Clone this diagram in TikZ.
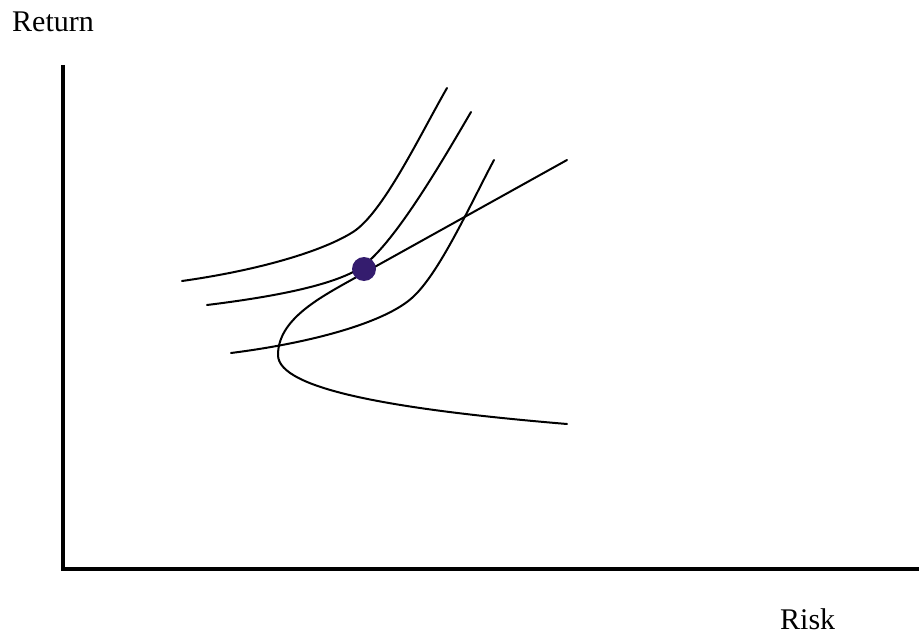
\documentclass[tikz,border=0pt]{standalone}
\usepackage{fontspec}
\setmainfont{Liberation Serif}
\begin{document}
\begin{tikzpicture}[x=1pt,y=-1pt,
  curve/.style={line width=2pt, line cap=round, line join=round},
  axis/.style={line width=4pt, line join=miter},
  lab/.style={font=\fontsize{30}{36}\selectfont, inner sep=0pt, anchor=base west}]
\useasboundingbox (0,0) rectangle (919,634);
% axes
\coordinate (ytop) at (63,65);
\coordinate (origin) at (63,569);
\coordinate (xend) at (921,569);
\draw[axis] (ytop) -- (origin) -- (xend);
% labels
\node[lab] (ret) at (12,32) {Return};
\node[lab] (risk) at (780,629) {Risk};
% indifference curves
\draw[curve] (182,281) .. controls (260,270) and (323,251) .. (353,232)
                       .. controls (383,213) and (420,135) .. (447,88);
\draw[curve] (207,305) .. controls (280,296) and (330,285) .. (357,270)
                       .. controls (390,251) and (440,165) .. (471,112);
\draw[curve] (231,353) .. controls (310,343) and (385,323) .. (413,297)
                       .. controls (440,272) and (470,205) .. (494,160);
% efficient frontier and capital market line
\coordinate (fend) at (567,424);
\coordinate (tang) at (353,279);
\coordinate (lend) at (567,160);
\draw[curve] (fend) .. controls (400,410) and (278,390) .. (278,355)
                    .. controls (278,320) and (318,298.5) .. (tang) -- (lend);
% tangency point
\node[circle, fill={rgb,255:red,52;green,28;blue,110}, minimum size=24pt, inner sep=0pt] (dot) at (364,269) {};
\end{tikzpicture}
\end{document}
